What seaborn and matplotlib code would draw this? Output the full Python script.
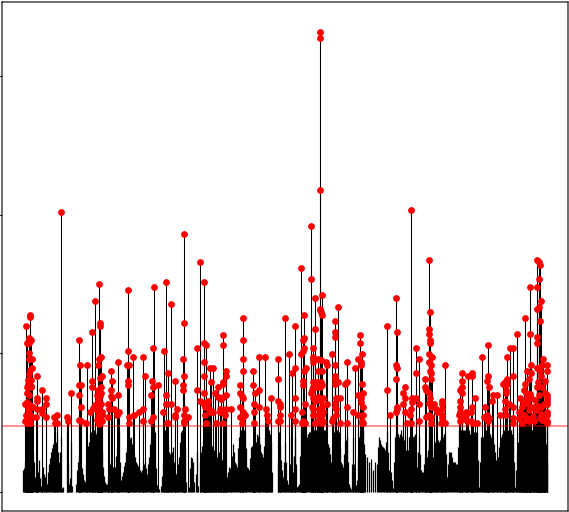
import numpy as np
import pandas as pd
import matplotlib
matplotlib.use("Agg")
import matplotlib.pyplot as plt
import seaborn as sns

sns.set_style("ticks")

threshold = 66
y_ticks = [0, 139, 277, 416]

tall_pos = [61, 95, 99, 128, 154, 166, 171, 184, 200, 204, 320, 320, 320, 311, 301, 311, 315, 322, 320, 338,
            411, 429, 396, 537, 539, 540, 539, 537, 530, 541, 539]
tall_val = [280, 191, 208, 202, 205, 210, 188, 258, 230, 210, 460, 454, 302, 266, 224, 213, 194, 197, 183, 185,
            282, 232, 194, 232, 230, 227, 213, 205, 205, 191, 185]

left_pos = [26,30,30,29,31,27,29,29,29,32,32,30,29,28,31,28,31,27,31,27,29,27,25,29,31,33,28,29,26,31,25,28,32,36,30,27,
            37,42,37,37,46,46,37,42,42,46,54,57,55,57,67,68,71,79,80,79,81,79,81,79,81,86,87,90,92,92,
            93,95,97,99,101,99,98,100,102,101,98,101,97,100,98,101,99,102,98,102,97,100,102,99,92,100,100,
            111,112,111,111,112,108,109,114,108,118,118,117,119,117,128,127,129,128,128,129,129,133,134,
            143,145,139,143,143,153,152,153,158,151,153,151,164,168,163,166,166,171,168,167,175,177,175,175,
            184,183,184,183,183,185,184,184,184,188]
left_val = [166,177,175,154,152,149,149,139,133,133,124,122,118,112,112,108,106,105,105,99,97,90,88,88,86,85,83,79,77,75,71,71,75,75,69,69,
            116,102,94,91,94,88,83,83,79,75,75,77,69,69,75,71,99,152,127,107,107,97,85,72,71,69,127,80,111,105,
            84,87,82,90,135,133,127,114,116,105,102,99,97,96,92,88,85,80,77,77,72,72,71,68,160,169,166,
            121,111,102,96,94,88,83,83,75,130,97,80,80,77,141,127,127,111,107,75,69,135,77,
            135,116,80,83,71,144,111,105,107,97,75,71,141,119,80,97,88,88,69,69,111,83,77,75,
            169,133,116,107,102,83,77,71,69,75]

mid_pos = [197,197,204,206,204,204,204,200,203,205,208,207,209,210,213,205,206,216,223,
           210,213,211,215,218,218,221,223,226,220,220,224,226,231,225,223,223,223,223,226,226,
           243,243,243,243,240,240,242,243,240,243,245,240,243,242,253,253,255,259,254,259,254,254,
           259,265,271,266,267,268,278,278,278,280,280,280,278,280,285,289,292,295,295,295,295,295,291,
           304,304,303,304,303,301,306,304,303,303,305,302,303,303,302,305,
           315,313,313,313,313,318,318,322,321,313,312,313,317,321,322,311,317,320,313,318,323,315,321,327,322,312,313,319,323,313,318,322,318,323,315,322,
           320,321,322,326,327,335,335,335,332,335,335,335,338,335,336,340,335,335,336,336,333,332,340,
           347,347,345,347,347,355,353,360,360,362,358,361,361,362,363,358,361,361,363,358,363,362,363,362]
mid_val = [144,102,149,147,130,116,99,91,89,85,91,86,83,80,80,77,69,69,69,
           124,124,110,99,105,95,93,95,97,83,80,80,83,83,77,157,147,110,108,121,116,
           174,152,133,121,107,99,96,94,85,80,77,75,75,69,121,107,99,102,88,85,80,69,
           135,135,94,83,77,71,133,113,91,88,85,77,71,71,174,138,119,166,124,94,83,71,77,
           177,154,152,144,141,138,124,121,111,107,88,80,71,69,69,69,
           163,144,135,133,130,133,121,121,132,105,102,110,110,110,107,99,105,105,94,95,94,91,91,88,85,85,83,83,80,77,77,77,71,71,69,69,
           182,180,177,130,127,171,160,155,138,127,116,113,110,108,94,94,89,85,83,77,74,71,69,
           130,110,108,85,69,124,80,157,149,138,133,130,127,108,99,97,94,90,85,77,77,71,69,69]

right_pos = [387,387,390,397,396,397,396,397,397,396,403,405,405,403,405,407,411,
             416,419,416,412,416,412,419,411,410,419,
             430,429,429,430,430,429,432,429,431,430,431,431,425,425,426,429,430,429,431,434,429,426,431,431,
             445,436,437,442,442,442,442,442,441,445,
             462,462,462,460,462,460,460,460,459,462,460,466,466,471,472,467,471,473,477,468,472,472,475,
             482,488,488,487,489,485,484,487,489,488,492,493,497,500,
             507,510,513,513,507,505,503,507,506,506,505,509,513,505,506,513,513,
             517,525,530,527,525,531,531,529,524,526,520,527,531,522,519,524,519,527,529,533,536,522,529,534,
             537,540,537,537,543,537,542,547,547,540,541,545,537,542,539,545,547,547,547,547,541,547,547,540,547,547,542,
             523,528,535,538,544,526,533,541,521,530,538,544]
right_val = [166,102,77,160,127,124,113,85,83,80,99,105,94,88,80,69,69,
             144,133,119,94,94,90,88,83,77,71,
             180,163,158,152,149,138,135,130,127,121,119,113,113,105,102,99,94,89,85,88,77,75,75,69,
             127,83,80,91,88,83,77,74,69,69,
             119,111,105,102,99,91,85,80,77,74,71,80,77,80,85,71,71,69,69,116,119,116,94,
             135,147,116,111,105,85,75,77,74,71,91,97,97,77,
             135,144,144,116,113,110,108,108,102,99,91,88,85,83,77,74,69,
             158,174,158,121,108,127,119,113,102,99,94,94,94,85,80,77,74,74,82,85,82,69,71,71,
             183,171,155,149,133,124,127,127,121,121,116,111,105,105,97,99,97,94,91,88,85,80,77,74,71,69,72,
             90,88,92,110,88,72,76,78,78,98,86,72]

low_a_val = [22,30,40,60,45,40,15,8,32,6,25,15,8,28,40,48,35,60,30,55,
             5,0,60,8,50,0,0,22,35,22,18,10,40,50,60,55,60,60,60,60,
             25,10,8,25,30,25,25,45,60,12,20,30,45,50,55,40,35,28,25,20,
             25,30,18,35,55,62,60,7,3,6,30,62,55,40,35,45,20,18,35,60,
             60,45,0,5,35,30,0,40,0,40,50,52,55,50,48,45,40,35,40,35,
             30,20,15,25,22,48,30,25,55,62,62,60,25,22,45,48,40,58,55,40,
             35,55,62,62,50,0,0,0,60,32,15,50,12,6,55,20,55,5,8,62,
             62,60,55,60,62,62,62,62,62,62,62,62,50,45,30,55,62,62,60,30,
             25,50,55,8,3,55,3,12,55,60,62,38,35,30,33,22,30,28,55,48,
             45,42,60,22,20,4,55,60,55,62,50,55,30,55,58,55,58,25,55,22,
             20,35,35,50,60,35,50,55,50,55,55,60,15,40,40,30,30,28,62,62,
             62,62,62,62,55,60,58,60,5,55,55,60,62,60,55,55,40,25,45,55,
             62,62,62,60,62,55,5,40,60,62,62,62,50,62,62,62,62,62,62,62,
             62,62,30]
low_b_val = [24,36,50,52,48,30,10,20,14,16,18,10,20,34,44,42,50,40,40,4,
             0,0,30,14,6,0,8,30,28,24,12,28,46,58,58,62,58,62,60,40,
             16,8,16,28,26,24,36,56,30,16,26,40,48,54,48,38,30,26,22,22,
             28,24,28,48,60,62,24,4,0,16,50,60,48,38,40,30,18,28,50,62,
             52,10,0,24,34,10,18,6,30,46,52,54,52,50,46,42,38,38,38,32,
             26,18,20,24,36,40,28,44,60,62,62,44,24,34,46,44,50,56,48,38,
             46,60,62,58,20,0,0,30,46,22,30,30,8,28,36,36,28,6,36,62,
             62,58,58,60,62,62,62,62,62,62,62,60,48,38,42,60,62,60,44,28,
             38,52,30,5,28,28,7,34,58,62,48,0,0,0,0,0,0,45,52,46,
             44,50,40,20,12,30,58,58,58,56,52,42,42,56,56,56,40,40,38,20,
             28,35,42,56,48,42,52,52,52,55,58,38,28,40,35,30,28,45,62,62,
             62,62,62,58,58,60,60,32,30,55,58,62,62,58,55,48,32,35,50,58,
             62,62,62,62,58,30,22,50,62,62,62,56,56,62,62,62,62,62,62,62,
             62,48]

low_a_pos = 23 + 2 * np.arange(len(low_a_val))
low_b_pos = 24 + 2 * np.arange(len(low_b_val))
hits = pd.DataFrame({
    "pos": tall_pos + left_pos + mid_pos + right_pos,
    "val": tall_val + left_val + mid_val + right_val,
})

fig = plt.figure(figsize=(5.69, 5.12), dpi=100)
ax = fig.add_axes([2 / 569, 1 - 511 / 512, 566 / 569, 509 / 512])

ax.vlines(low_a_pos, 0, low_a_val, color="black", linewidth=0.9)
ax.vlines(low_b_pos, 0, low_b_val, color="black", linewidth=0.9)
ax.vlines(hits["pos"], 0, hits["val"], color="black", linewidth=0.75)
ax.axhline(threshold, color="red", alpha=0.5, linewidth=1.2)
sns.scatterplot(data=hits, x="pos", y="val", color="red", s=24, linewidth=0, ax=ax, zorder=3)

ax.set_xlim(2, 568)
ax.set_ylim(-19, 490)
ax.set_xticks([])
ax.set_yticks(y_ticks)
ax.set_yticklabels([])
ax.set_xlabel("")
ax.set_ylabel("")
for s in ax.spines.values():
    s.set_visible(True)
    s.set_color("black")
    s.set_linewidth(0.8)
    s.set_snap(False)

fig.savefig("out.png", dpi=100)
